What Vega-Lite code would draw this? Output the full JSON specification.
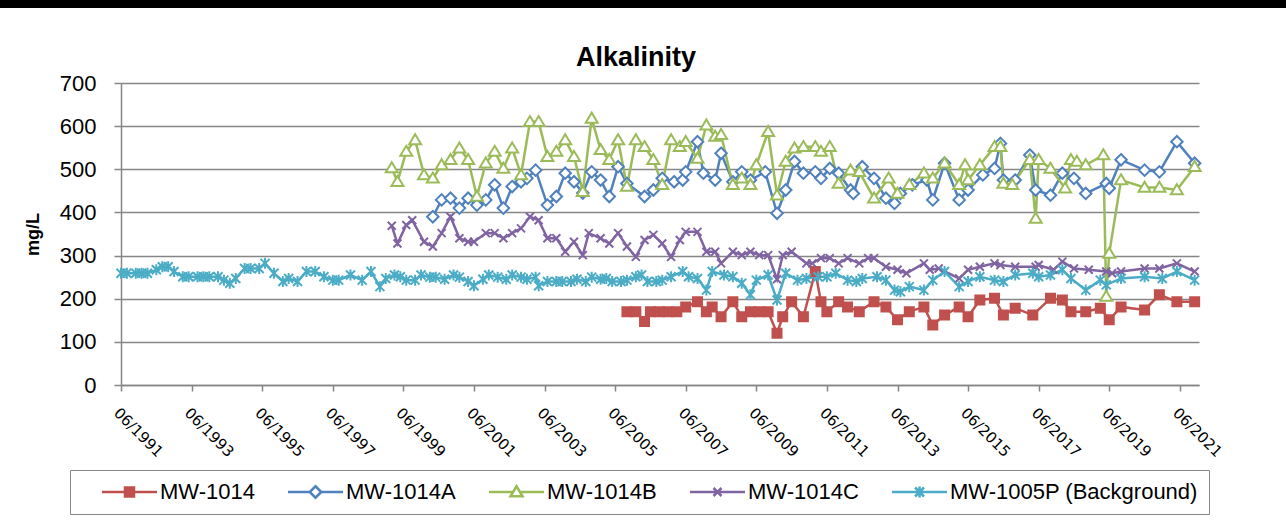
{
  "$schema": "https://vega.github.io/schema/vega-lite/v6.json",
  "padding": 0,
  "background": "white",
  "config": {"view": {"stroke": null}, "font": "Liberation Sans"},
  "spacing": 75,
  "bounds": "flush",
  "datasets": {
    "obs": [
      {"series":"MW-1014","date":"2005-10-01","value":170},{"series":"MW-1014","date":"2006-01-01","value":170},{"series":"MW-1014","date":"2006-04-01","value":147},{"series":"MW-1014","date":"2006-06-01","value":170},{"series":"MW-1014","date":"2006-09-01","value":170},{"series":"MW-1014","date":"2006-12-01","value":170},{"series":"MW-1014","date":"2007-03-01","value":170},{"series":"MW-1014","date":"2007-06-01","value":181},{"series":"MW-1014","date":"2007-10-01","value":193},{"series":"MW-1014","date":"2008-01-01","value":170},{"series":"MW-1014","date":"2008-03-01","value":181},{"series":"MW-1014","date":"2008-06-01","value":158},{"series":"MW-1014","date":"2008-10-01","value":193},{"series":"MW-1014","date":"2009-01-01","value":158},{"series":"MW-1014","date":"2009-04-01","value":170},{"series":"MW-1014","date":"2009-07-01","value":170},{"series":"MW-1014","date":"2009-10-01","value":170},{"series":"MW-1014","date":"2010-01-01","value":120},{"series":"MW-1014","date":"2010-03-01","value":158},{"series":"MW-1014","date":"2010-06-01","value":193},{"series":"MW-1014","date":"2010-10-01","value":158},{"series":"MW-1014","date":"2011-02-01","value":263},{"series":"MW-1014","date":"2011-04-01","value":193},{"series":"MW-1014","date":"2011-06-01","value":170},{"series":"MW-1014","date":"2011-10-01","value":193},{"series":"MW-1014","date":"2012-01-01","value":181},{"series":"MW-1014","date":"2012-05-01","value":170},{"series":"MW-1014","date":"2012-10-01","value":193},{"series":"MW-1014","date":"2013-02-01","value":181},{"series":"MW-1014","date":"2013-06-01","value":151},{"series":"MW-1014","date":"2013-10-01","value":170},{"series":"MW-1014","date":"2014-03-01","value":181},{"series":"MW-1014","date":"2014-06-01","value":139},{"series":"MW-1014","date":"2014-10-01","value":162},{"series":"MW-1014","date":"2015-03-01","value":181},{"series":"MW-1014","date":"2015-06-01","value":158},{"series":"MW-1014","date":"2015-10-01","value":197},{"series":"MW-1014","date":"2016-03-01","value":201},{"series":"MW-1014","date":"2016-06-01","value":162},{"series":"MW-1014","date":"2016-10-01","value":178},{"series":"MW-1014","date":"2017-04-01","value":162},{"series":"MW-1014","date":"2017-10-01","value":201},{"series":"MW-1014","date":"2018-02-01","value":197},{"series":"MW-1014","date":"2018-05-01","value":170},{"series":"MW-1014","date":"2018-10-01","value":170},{"series":"MW-1014","date":"2019-03-01","value":178},{"series":"MW-1014","date":"2019-06-01","value":151},{"series":"MW-1014","date":"2019-10-01","value":181},{"series":"MW-1014","date":"2020-06-01","value":174},{"series":"MW-1014","date":"2020-11-01","value":209},{"series":"MW-1014","date":"2021-05-01","value":193},{"series":"MW-1014","date":"2021-11-01","value":193},

      {"series":"MW-1014A","date":"2000-04-01","value":390},{"series":"MW-1014A","date":"2000-07-01","value":429},{"series":"MW-1014A","date":"2000-10-01","value":433},{"series":"MW-1014A","date":"2001-01-01","value":410},{"series":"MW-1014A","date":"2001-04-01","value":433},{"series":"MW-1014A","date":"2001-07-01","value":417},{"series":"MW-1014A","date":"2001-10-01","value":429},{"series":"MW-1014A","date":"2002-01-01","value":464},{"series":"MW-1014A","date":"2002-04-01","value":410},{"series":"MW-1014A","date":"2002-07-01","value":460},{"series":"MW-1014A","date":"2002-10-01","value":471},{"series":"MW-1014A","date":"2002-12-01","value":479},{"series":"MW-1014A","date":"2003-03-01","value":498},{"series":"MW-1014A","date":"2003-07-01","value":417},{"series":"MW-1014A","date":"2003-10-01","value":437},{"series":"MW-1014A","date":"2004-01-01","value":491},{"series":"MW-1014A","date":"2004-04-01","value":471},{"series":"MW-1014A","date":"2004-07-01","value":445},{"series":"MW-1014A","date":"2004-10-01","value":494},{"series":"MW-1014A","date":"2005-01-01","value":475},{"series":"MW-1014A","date":"2005-04-01","value":437},{"series":"MW-1014A","date":"2005-07-01","value":506},{"series":"MW-1014A","date":"2005-10-01","value":467},{"series":"MW-1014A","date":"2006-04-01","value":437},{"series":"MW-1014A","date":"2006-07-01","value":452},{"series":"MW-1014A","date":"2006-10-01","value":479},{"series":"MW-1014A","date":"2007-02-01","value":471},{"series":"MW-1014A","date":"2007-05-01","value":475},{"series":"MW-1014A","date":"2007-06-01","value":494},{"series":"MW-1014A","date":"2007-10-01","value":564},{"series":"MW-1014A","date":"2007-12-01","value":491},{"series":"MW-1014A","date":"2008-04-01","value":475},{"series":"MW-1014A","date":"2008-06-01","value":537},{"series":"MW-1014A","date":"2008-10-01","value":471},{"series":"MW-1014A","date":"2009-01-01","value":494},{"series":"MW-1014A","date":"2009-04-01","value":475},{"series":"MW-1014A","date":"2009-09-01","value":494},{"series":"MW-1014A","date":"2010-01-01","value":398},{"series":"MW-1014A","date":"2010-04-01","value":452},{"series":"MW-1014A","date":"2010-07-01","value":518},{"series":"MW-1014A","date":"2010-10-01","value":491},{"series":"MW-1014A","date":"2011-02-01","value":494},{"series":"MW-1014A","date":"2011-04-01","value":479},{"series":"MW-1014A","date":"2011-07-01","value":502},{"series":"MW-1014A","date":"2011-10-01","value":491},{"series":"MW-1014A","date":"2012-02-01","value":452},{"series":"MW-1014A","date":"2012-03-01","value":444},{"series":"MW-1014A","date":"2012-06-01","value":506},{"series":"MW-1014A","date":"2012-10-01","value":479},{"series":"MW-1014A","date":"2013-02-01","value":433},{"series":"MW-1014A","date":"2013-05-01","value":421},{"series":"MW-1014A","date":"2013-07-01","value":444},{"series":"MW-1014A","date":"2013-11-01","value":464},{"series":"MW-1014A","date":"2014-04-01","value":475},{"series":"MW-1014A","date":"2014-06-01","value":429},{"series":"MW-1014A","date":"2014-10-01","value":514},{"series":"MW-1014A","date":"2015-03-01","value":429},{"series":"MW-1014A","date":"2015-06-01","value":452},{"series":"MW-1014A","date":"2015-11-01","value":487},{"series":"MW-1014A","date":"2016-03-01","value":502},{"series":"MW-1014A","date":"2016-05-01","value":560},{"series":"MW-1014A","date":"2016-06-01","value":475},{"series":"MW-1014A","date":"2016-10-01","value":475},{"series":"MW-1014A","date":"2017-03-01","value":533},{"series":"MW-1014A","date":"2017-05-01","value":452},{"series":"MW-1014A","date":"2017-10-01","value":440},{"series":"MW-1014A","date":"2018-02-01","value":491},{"series":"MW-1014A","date":"2018-06-01","value":479},{"series":"MW-1014A","date":"2018-10-01","value":444},{"series":"MW-1014A","date":"2019-05-01","value":467},{"series":"MW-1014A","date":"2019-06-01","value":456},{"series":"MW-1014A","date":"2019-10-01","value":522},{"series":"MW-1014A","date":"2020-06-01","value":498},{"series":"MW-1014A","date":"2020-11-01","value":494},{"series":"MW-1014A","date":"2021-05-01","value":564},{"series":"MW-1014A","date":"2021-11-01","value":514},

      {"series":"MW-1014B","date":"1999-02-01","value":503},{"series":"MW-1014B","date":"1999-04-01","value":471},{"series":"MW-1014B","date":"1999-07-01","value":541},{"series":"MW-1014B","date":"1999-10-01","value":568},{"series":"MW-1014B","date":"2000-01-01","value":487},{"series":"MW-1014B","date":"2000-04-01","value":479},{"series":"MW-1014B","date":"2000-07-01","value":510},{"series":"MW-1014B","date":"2000-10-01","value":522},{"series":"MW-1014B","date":"2001-01-01","value":549},{"series":"MW-1014B","date":"2001-04-01","value":522},{"series":"MW-1014B","date":"2001-07-01","value":437},{"series":"MW-1014B","date":"2001-10-01","value":514},{"series":"MW-1014B","date":"2002-01-01","value":541},{"series":"MW-1014B","date":"2002-04-01","value":502},{"series":"MW-1014B","date":"2002-07-01","value":549},{"series":"MW-1014B","date":"2002-10-01","value":487},{"series":"MW-1014B","date":"2003-01-01","value":610},{"series":"MW-1014B","date":"2003-04-01","value":610},{"series":"MW-1014B","date":"2003-07-01","value":529},{"series":"MW-1014B","date":"2003-10-01","value":541},{"series":"MW-1014B","date":"2004-01-01","value":568},{"series":"MW-1014B","date":"2004-04-01","value":529},{"series":"MW-1014B","date":"2004-07-01","value":448},{"series":"MW-1014B","date":"2004-10-01","value":618},{"series":"MW-1014B","date":"2005-01-01","value":545},{"series":"MW-1014B","date":"2005-04-01","value":522},{"series":"MW-1014B","date":"2005-07-01","value":568},{"series":"MW-1014B","date":"2005-10-01","value":460},{"series":"MW-1014B","date":"2006-01-01","value":568},{"series":"MW-1014B","date":"2006-04-01","value":552},{"series":"MW-1014B","date":"2006-07-01","value":522},{"series":"MW-1014B","date":"2006-10-01","value":464},{"series":"MW-1014B","date":"2007-01-01","value":568},{"series":"MW-1014B","date":"2007-04-01","value":552},{"series":"MW-1014B","date":"2007-06-01","value":564},{"series":"MW-1014B","date":"2007-10-01","value":525},{"series":"MW-1014B","date":"2008-01-01","value":602},{"series":"MW-1014B","date":"2008-04-01","value":576},{"series":"MW-1014B","date":"2008-06-01","value":580},{"series":"MW-1014B","date":"2008-10-01","value":464},{"series":"MW-1014B","date":"2009-01-01","value":479},{"series":"MW-1014B","date":"2009-04-01","value":464},{"series":"MW-1014B","date":"2009-06-01","value":510},{"series":"MW-1014B","date":"2009-10-01","value":587},{"series":"MW-1014B","date":"2010-01-01","value":440},{"series":"MW-1014B","date":"2010-04-01","value":518},{"series":"MW-1014B","date":"2010-07-01","value":549},{"series":"MW-1014B","date":"2010-10-01","value":552},{"series":"MW-1014B","date":"2011-02-01","value":552},{"series":"MW-1014B","date":"2011-04-01","value":541},{"series":"MW-1014B","date":"2011-07-01","value":552},{"series":"MW-1014B","date":"2011-10-01","value":467},{"series":"MW-1014B","date":"2012-02-01","value":498},{"series":"MW-1014B","date":"2012-05-01","value":494},{"series":"MW-1014B","date":"2012-10-01","value":433},{"series":"MW-1014B","date":"2013-03-01","value":479},{"series":"MW-1014B","date":"2013-06-01","value":444},{"series":"MW-1014B","date":"2013-10-01","value":464},{"series":"MW-1014B","date":"2014-03-01","value":491},{"series":"MW-1014B","date":"2014-06-01","value":479},{"series":"MW-1014B","date":"2014-10-01","value":514},{"series":"MW-1014B","date":"2015-03-01","value":464},{"series":"MW-1014B","date":"2015-05-01","value":510},{"series":"MW-1014B","date":"2015-06-01","value":475},{"series":"MW-1014B","date":"2015-10-01","value":510},{"series":"MW-1014B","date":"2016-03-01","value":552},{"series":"MW-1014B","date":"2016-05-01","value":552},{"series":"MW-1014B","date":"2016-06-01","value":467},{"series":"MW-1014B","date":"2016-09-01","value":464},{"series":"MW-1014B","date":"2017-03-01","value":522},{"series":"MW-1014B","date":"2017-05-01","value":386},{"series":"MW-1014B","date":"2017-06-01","value":522},{"series":"MW-1014B","date":"2017-10-01","value":502},{"series":"MW-1014B","date":"2018-03-01","value":456},{"series":"MW-1014B","date":"2018-05-01","value":522},{"series":"MW-1014B","date":"2018-07-01","value":518},{"series":"MW-1014B","date":"2018-10-01","value":510},{"series":"MW-1014B","date":"2019-04-01","value":533},{"series":"MW-1014B","date":"2019-05-01","value":205},{"series":"MW-1014B","date":"2019-06-01","value":305},{"series":"MW-1014B","date":"2019-10-01","value":475},{"series":"MW-1014B","date":"2020-06-01","value":458},{"series":"MW-1014B","date":"2020-11-01","value":458},{"series":"MW-1014B","date":"2021-05-01","value":452},{"series":"MW-1014B","date":"2021-11-01","value":506},

      {"series":"MW-1014C","date":"1999-02-01","value":369},{"series":"MW-1014C","date":"1999-04-01","value":328},{"series":"MW-1014C","date":"1999-07-01","value":371},{"series":"MW-1014C","date":"1999-09-01","value":382},{"series":"MW-1014C","date":"2000-01-01","value":332},{"series":"MW-1014C","date":"2000-04-01","value":321},{"series":"MW-1014C","date":"2000-07-01","value":352},{"series":"MW-1014C","date":"2000-10-01","value":390},{"series":"MW-1014C","date":"2001-01-01","value":340},{"series":"MW-1014C","date":"2001-04-01","value":332},{"series":"MW-1014C","date":"2001-06-01","value":332},{"series":"MW-1014C","date":"2001-10-01","value":352},{"series":"MW-1014C","date":"2002-01-01","value":352},{"series":"MW-1014C","date":"2002-04-01","value":340},{"series":"MW-1014C","date":"2002-07-01","value":352},{"series":"MW-1014C","date":"2002-10-01","value":363},{"series":"MW-1014C","date":"2003-01-01","value":390},{"series":"MW-1014C","date":"2003-04-01","value":382},{"series":"MW-1014C","date":"2003-07-01","value":340},{"series":"MW-1014C","date":"2003-10-01","value":340},{"series":"MW-1014C","date":"2004-01-01","value":309},{"series":"MW-1014C","date":"2004-04-01","value":332},{"series":"MW-1014C","date":"2004-07-01","value":301},{"series":"MW-1014C","date":"2004-09-01","value":352},{"series":"MW-1014C","date":"2005-01-01","value":340},{"series":"MW-1014C","date":"2005-04-01","value":328},{"series":"MW-1014C","date":"2005-07-01","value":352},{"series":"MW-1014C","date":"2005-10-01","value":321},{"series":"MW-1014C","date":"2006-01-01","value":297},{"series":"MW-1014C","date":"2006-04-01","value":336},{"series":"MW-1014C","date":"2006-07-01","value":348},{"series":"MW-1014C","date":"2006-10-01","value":328},{"series":"MW-1014C","date":"2007-01-01","value":297},{"series":"MW-1014C","date":"2007-04-01","value":336},{"series":"MW-1014C","date":"2007-06-01","value":355},{"series":"MW-1014C","date":"2007-10-01","value":355},{"series":"MW-1014C","date":"2008-01-01","value":309},{"series":"MW-1014C","date":"2008-04-01","value":309},{"series":"MW-1014C","date":"2008-06-01","value":282},{"series":"MW-1014C","date":"2008-10-01","value":309},{"series":"MW-1014C","date":"2009-01-01","value":301},{"series":"MW-1014C","date":"2009-04-01","value":309},{"series":"MW-1014C","date":"2009-07-01","value":301},{"series":"MW-1014C","date":"2009-10-01","value":301},{"series":"MW-1014C","date":"2010-01-01","value":245},{"series":"MW-1014C","date":"2010-03-01","value":301},{"series":"MW-1014C","date":"2010-06-01","value":309},{"series":"MW-1014C","date":"2010-11-01","value":282},{"series":"MW-1014C","date":"2011-01-01","value":282},{"series":"MW-1014C","date":"2011-04-01","value":294},{"series":"MW-1014C","date":"2011-07-01","value":294},{"series":"MW-1014C","date":"2011-10-01","value":282},{"series":"MW-1014C","date":"2012-01-01","value":294},{"series":"MW-1014C","date":"2012-05-01","value":282},{"series":"MW-1014C","date":"2012-08-01","value":294},{"series":"MW-1014C","date":"2012-10-01","value":294},{"series":"MW-1014C","date":"2013-02-01","value":274},{"series":"MW-1014C","date":"2013-06-01","value":267},{"series":"MW-1014C","date":"2013-09-01","value":259},{"series":"MW-1014C","date":"2014-03-01","value":282},{"series":"MW-1014C","date":"2014-05-01","value":267},{"series":"MW-1014C","date":"2014-08-01","value":270},{"series":"MW-1014C","date":"2015-03-01","value":247},{"series":"MW-1014C","date":"2015-06-01","value":267},{"series":"MW-1014C","date":"2015-10-01","value":274},{"series":"MW-1014C","date":"2016-03-01","value":282},{"series":"MW-1014C","date":"2016-05-01","value":278},{"series":"MW-1014C","date":"2016-10-01","value":274},{"series":"MW-1014C","date":"2017-05-01","value":274},{"series":"MW-1014C","date":"2017-06-01","value":278},{"series":"MW-1014C","date":"2017-11-01","value":267},{"series":"MW-1014C","date":"2018-02-01","value":286},{"series":"MW-1014C","date":"2018-06-01","value":270},{"series":"MW-1014C","date":"2018-11-01","value":267},{"series":"MW-1014C","date":"2019-05-01","value":263},{"series":"MW-1014C","date":"2019-07-01","value":259},{"series":"MW-1014C","date":"2019-10-01","value":263},{"series":"MW-1014C","date":"2020-06-01","value":270},{"series":"MW-1014C","date":"2020-11-01","value":270},{"series":"MW-1014C","date":"2021-05-01","value":282},{"series":"MW-1014C","date":"2021-11-01","value":263},

      {"series":"MW-1005P (Background)","date":"1991-06-01","value":259},{"series":"MW-1005P (Background)","date":"1991-08-01","value":259},{"series":"MW-1005P (Background)","date":"1991-11-01","value":259},{"series":"MW-1005P (Background)","date":"1992-01-01","value":259},{"series":"MW-1005P (Background)","date":"1992-03-01","value":259},{"series":"MW-1005P (Background)","date":"1992-06-01","value":267},{"series":"MW-1005P (Background)","date":"1992-08-01","value":274},{"series":"MW-1005P (Background)","date":"1992-10-01","value":274},{"series":"MW-1005P (Background)","date":"1992-12-01","value":263},{"series":"MW-1005P (Background)","date":"1993-03-01","value":251},{"series":"MW-1005P (Background)","date":"1993-05-01","value":251},{"series":"MW-1005P (Background)","date":"1993-08-01","value":251},{"series":"MW-1005P (Background)","date":"1993-10-01","value":251},{"series":"MW-1005P (Background)","date":"1993-12-01","value":251},{"series":"MW-1005P (Background)","date":"1994-03-01","value":251},{"series":"MW-1005P (Background)","date":"1994-05-01","value":243},{"series":"MW-1005P (Background)","date":"1994-07-01","value":236},{"series":"MW-1005P (Background)","date":"1994-09-01","value":247},{"series":"MW-1005P (Background)","date":"1994-12-01","value":270},{"series":"MW-1005P (Background)","date":"1995-02-01","value":270},{"series":"MW-1005P (Background)","date":"1995-05-01","value":270},{"series":"MW-1005P (Background)","date":"1995-07-01","value":282},{"series":"MW-1005P (Background)","date":"1995-10-01","value":259},{"series":"MW-1005P (Background)","date":"1996-01-01","value":240},{"series":"MW-1005P (Background)","date":"1996-03-01","value":247},{"series":"MW-1005P (Background)","date":"1996-06-01","value":240},{"series":"MW-1005P (Background)","date":"1996-09-01","value":263},{"series":"MW-1005P (Background)","date":"1996-12-01","value":263},{"series":"MW-1005P (Background)","date":"1997-03-01","value":251},{"series":"MW-1005P (Background)","date":"1997-06-01","value":243},{"series":"MW-1005P (Background)","date":"1997-08-01","value":243},{"series":"MW-1005P (Background)","date":"1997-12-01","value":255},{"series":"MW-1005P (Background)","date":"1998-04-01","value":243},{"series":"MW-1005P (Background)","date":"1998-07-01","value":263},{"series":"MW-1005P (Background)","date":"1998-10-01","value":228},{"series":"MW-1005P (Background)","date":"1998-12-01","value":247},{"series":"MW-1005P (Background)","date":"1999-03-01","value":255},{"series":"MW-1005P (Background)","date":"1999-05-01","value":251},{"series":"MW-1005P (Background)","date":"1999-07-01","value":243},{"series":"MW-1005P (Background)","date":"1999-10-01","value":243},{"series":"MW-1005P (Background)","date":"1999-12-01","value":255},{"series":"MW-1005P (Background)","date":"2000-03-01","value":250},{"series":"MW-1005P (Background)","date":"2000-05-01","value":250},{"series":"MW-1005P (Background)","date":"2000-08-01","value":245},{"series":"MW-1005P (Background)","date":"2000-11-01","value":255},{"series":"MW-1005P (Background)","date":"2001-01-01","value":250},{"series":"MW-1005P (Background)","date":"2001-04-01","value":240},{"series":"MW-1005P (Background)","date":"2001-06-01","value":230},{"series":"MW-1005P (Background)","date":"2001-09-01","value":245},{"series":"MW-1005P (Background)","date":"2001-11-01","value":255},{"series":"MW-1005P (Background)","date":"2002-02-01","value":250},{"series":"MW-1005P (Background)","date":"2002-05-01","value":245},{"series":"MW-1005P (Background)","date":"2002-07-01","value":255},{"series":"MW-1005P (Background)","date":"2002-10-01","value":250},{"series":"MW-1005P (Background)","date":"2002-12-01","value":245},{"series":"MW-1005P (Background)","date":"2003-03-01","value":250},{"series":"MW-1005P (Background)","date":"2003-04-01","value":230},{"series":"MW-1005P (Background)","date":"2003-07-01","value":240},{"series":"MW-1005P (Background)","date":"2003-10-01","value":240},{"series":"MW-1005P (Background)","date":"2003-12-01","value":240},{"series":"MW-1005P (Background)","date":"2004-03-01","value":240},{"series":"MW-1005P (Background)","date":"2004-05-01","value":245},{"series":"MW-1005P (Background)","date":"2004-08-01","value":240},{"series":"MW-1005P (Background)","date":"2004-10-01","value":250},{"series":"MW-1005P (Background)","date":"2005-01-01","value":245},{"series":"MW-1005P (Background)","date":"2005-03-01","value":247},{"series":"MW-1005P (Background)","date":"2005-05-01","value":240},{"series":"MW-1005P (Background)","date":"2005-08-01","value":240},{"series":"MW-1005P (Background)","date":"2005-10-01","value":243},{"series":"MW-1005P (Background)","date":"2006-01-01","value":251},{"series":"MW-1005P (Background)","date":"2006-03-01","value":255},{"series":"MW-1005P (Background)","date":"2006-05-01","value":240},{"series":"MW-1005P (Background)","date":"2006-08-01","value":240},{"series":"MW-1005P (Background)","date":"2006-10-01","value":243},{"series":"MW-1005P (Background)","date":"2007-01-01","value":251},{"series":"MW-1005P (Background)","date":"2007-05-01","value":263},{"series":"MW-1005P (Background)","date":"2007-07-01","value":251},{"series":"MW-1005P (Background)","date":"2007-10-01","value":247},{"series":"MW-1005P (Background)","date":"2008-01-01","value":220},{"series":"MW-1005P (Background)","date":"2008-03-01","value":263},{"series":"MW-1005P (Background)","date":"2008-07-01","value":255},{"series":"MW-1005P (Background)","date":"2008-10-01","value":251},{"series":"MW-1005P (Background)","date":"2009-01-01","value":236},{"series":"MW-1005P (Background)","date":"2009-04-01","value":209},{"series":"MW-1005P (Background)","date":"2009-06-01","value":243},{"series":"MW-1005P (Background)","date":"2009-10-01","value":255},{"series":"MW-1005P (Background)","date":"2010-01-01","value":197},{"series":"MW-1005P (Background)","date":"2010-04-01","value":259},{"series":"MW-1005P (Background)","date":"2010-08-01","value":243},{"series":"MW-1005P (Background)","date":"2010-11-01","value":247},{"series":"MW-1005P (Background)","date":"2011-03-01","value":251},{"series":"MW-1005P (Background)","date":"2011-06-01","value":251},{"series":"MW-1005P (Background)","date":"2011-09-01","value":259},{"series":"MW-1005P (Background)","date":"2012-01-01","value":243},{"series":"MW-1005P (Background)","date":"2012-04-01","value":240},{"series":"MW-1005P (Background)","date":"2012-06-01","value":247},{"series":"MW-1005P (Background)","date":"2012-11-01","value":251},{"series":"MW-1005P (Background)","date":"2013-02-01","value":243},{"series":"MW-1005P (Background)","date":"2013-05-01","value":220},{"series":"MW-1005P (Background)","date":"2013-07-01","value":216},{"series":"MW-1005P (Background)","date":"2013-10-01","value":228},{"series":"MW-1005P (Background)","date":"2014-03-01","value":220},{"series":"MW-1005P (Background)","date":"2014-06-01","value":243},{"series":"MW-1005P (Background)","date":"2014-10-01","value":263},{"series":"MW-1005P (Background)","date":"2015-03-01","value":228},{"series":"MW-1005P (Background)","date":"2015-06-01","value":240},{"series":"MW-1005P (Background)","date":"2015-10-01","value":251},{"series":"MW-1005P (Background)","date":"2016-03-01","value":243},{"series":"MW-1005P (Background)","date":"2016-06-01","value":240},{"series":"MW-1005P (Background)","date":"2016-10-01","value":255},{"series":"MW-1005P (Background)","date":"2017-04-01","value":259},{"series":"MW-1005P (Background)","date":"2017-06-01","value":251},{"series":"MW-1005P (Background)","date":"2017-10-01","value":255},{"series":"MW-1005P (Background)","date":"2018-02-01","value":267},{"series":"MW-1005P (Background)","date":"2018-05-01","value":247},{"series":"MW-1005P (Background)","date":"2018-10-01","value":220},{"series":"MW-1005P (Background)","date":"2019-03-01","value":243},{"series":"MW-1005P (Background)","date":"2019-05-01","value":232},{"series":"MW-1005P (Background)","date":"2019-10-01","value":247},{"series":"MW-1005P (Background)","date":"2020-06-01","value":251},{"series":"MW-1005P (Background)","date":"2020-12-01","value":247},{"series":"MW-1005P (Background)","date":"2021-05-01","value":263},{"series":"MW-1005P (Background)","date":"2021-11-01","value":243}
    ],
    "keys": [
      {"series":"MW-1014","date":null,"value":null},
      {"series":"MW-1014A","date":null,"value":null},
      {"series":"MW-1014B","date":null,"value":null},
      {"series":"MW-1014C","date":null,"value":null},
      {"series":"MW-1005P (Background)","date":null,"value":null}
    ]
  },
  "vconcat": [
    {
      "width": 1286,
      "height": 8,
      "view": {"fill": "black", "stroke": null},
      "data": {"values": [{}]},
      "mark": {"type": "rect", "color": "black"},
      "encoding": {}
    },
    {
      "spacing": 120,
      "bounds": "flush",
      "hconcat": [
        {
          "width": 1,
          "height": 1,
          "data": {"values": []},
          "mark": {"type": "rect", "color": "white"},
          "encoding": {}
        },
        {
          "width": 1078,
          "height": 302,
          "title": {"text": "Alkalinity", "font": "Liberation Sans", "fontSize": 27, "fontWeight": "bold", "color": "black", "frame": "group", "anchor": "middle", "dx": -24, "dy": 30, "baseline": "alphabetic", "offset": 9},
          "encoding": {
            "x": {
              "field": "date", "type": "temporal",
              "scale": {"domain": [{"year": 1991, "month": 6, "date": 1}, {"year": 2021, "month": 12, "date": 16}]},
              "axis": {
                "title": null, "grid": false, "format": "%m/%Y",
                "values": [{"year":1991,"month":6,"date":1},{"year":1993,"month":6,"date":1},{"year":1995,"month":6,"date":1},{"year":1997,"month":6,"date":1},{"year":1999,"month":6,"date":1},{"year":2001,"month":6,"date":1},{"year":2003,"month":6,"date":1},{"year":2005,"month":6,"date":1},{"year":2007,"month":6,"date":1},{"year":2009,"month":6,"date":1},{"year":2011,"month":6,"date":1},{"year":2013,"month":6,"date":1},{"year":2015,"month":6,"date":1},{"year":2017,"month":6,"date":1},{"year":2019,"month":6,"date":1},{"year":2021,"month":6,"date":1}],
                "labelAngle": 45, "labelAlign": "left", "labelBaseline": "top", "labelPadding": 14,
                "labelFont": "DejaVu Sans", "labelFontSize": 15, "labelColor": "black",
                "labelOverlap": false, "labelFlush": false, "labelBound": false,
                "tickSize": 6, "tickColor": "#868686", "tickWidth": 1.5,
                "domainColor": "#868686", "domainWidth": 1.5
              }
            },
            "y": {
              "field": "value", "type": "quantitative",
              "scale": {"domain": [0, 700], "nice": false},
              "axis": {
                "title": "mg/L", "titleFont": "Liberation Sans", "titleFontSize": 18, "titleFontWeight": "bold", "titleColor": "black", "titlePadding": 17,
                "values": [0, 100, 200, 300, 400, 500, 600, 700],
                "labelFont": "Liberation Sans", "labelFontSize": 22, "labelColor": "black", "labelPadding": 18,
                "grid": true, "gridColor": "#868686", "gridWidth": 1.5,
                "tickSize": 7, "tickColor": "#868686", "tickWidth": 1.5,
                "domainColor": "#868686", "domainWidth": 1.5
              }
            }
          },
          "layer": [
            {
              "data": {"name": "obs"},
              "mark": {"type": "line", "strokeWidth": 2.5},
              "encoding": {
                "stroke": {"field": "series", "type": "nominal",
                  "scale": {"domain": ["MW-1014", "MW-1014A", "MW-1014B", "MW-1014C", "MW-1005P (Background)"], "range": ["#C0504D", "#4F81BD", "#9BBB59", "#8064A2", "#4BACC6"]},
                  "legend": null}
              }
            },
            {
              "data": {"name": "obs"},
              "mark": {"type": "point", "filled": true, "size": 100, "strokeWidth": 2, "opacity": 1},
              "encoding": {
                "stroke": {"field": "series", "type": "nominal",
                  "scale": {"domain": ["MW-1014", "MW-1014A", "MW-1014B", "MW-1014C", "MW-1005P (Background)"], "range": ["#C0504D", "#4F81BD", "#9BBB59", "#8064A2", "#4BACC6"]},
                  "legend": null},
                "fill": {"field": "series", "type": "nominal",
                  "scale": {"domain": ["MW-1014", "MW-1014A", "MW-1014B", "MW-1014C", "MW-1005P (Background)"], "range": ["#C0504D", "white", "white", "white", "white"]},
                  "legend": null},
                "shape": {"field": "series", "type": "nominal",
                  "scale": {"domain": ["MW-1014", "MW-1014A", "MW-1014B", "MW-1014C", "MW-1005P (Background)"],
                    "range": ["M-0.9,-0.9H0.9V0.9H-0.9Z", "M0,-1.15L1.15,0L0,1.15L-1.15,0Z", "M0,-1.15L1.2,0.85L-1.2,0.85Z", "M-0.8,-0.8L0.8,0.8M-0.8,0.8L0.8,-0.8", "M-0.9,-0.9L0.9,0.9M-0.9,0.9L0.9,-0.9M0,-1.1V1.1"]},
                  "legend": null}
              }
            },
            {
              "data": {"name": "keys"},
              "mark": {"type": "point", "filled": true, "size": 100, "strokeWidth": 2.5, "opacity": 1},
              "encoding": {
                "stroke": {"field": "series", "type": "nominal",
                  "scale": {"domain": ["MW-1014", "MW-1014A", "MW-1014B", "MW-1014C", "MW-1005P (Background)"], "range": ["#C0504D", "#4F81BD", "#9BBB59", "#8064A2", "#4BACC6"]},
                  "legend": {"orient": "none", "legendX": -51, "legendY": 387, "direction": "horizontal", "columns": 5, "title": null, "labelFont": "Liberation Sans", "labelFontSize": 22, "labelColor": "black", "labelLimit": 400, "symbolSize": 100, "symbolStrokeWidth": 2.5, "symbolOffset": 15, "labelOffset": 42, "columnPadding": 12, "padding": 11, "strokeColor": "#868686", "fillColor": "white", "symbolOpacity": 1}},
                "fill": {"field": "series", "type": "nominal",
                  "scale": {"domain": ["MW-1014", "MW-1014A", "MW-1014B", "MW-1014C", "MW-1005P (Background)"], "range": ["#C0504D", "white", "white", "white", "white"]},
                  "legend": {"orient": "none", "legendX": -51, "legendY": 387, "direction": "horizontal", "columns": 5, "title": null, "labelFont": "Liberation Sans", "labelFontSize": 22, "labelColor": "black", "labelLimit": 400, "symbolSize": 100, "symbolStrokeWidth": 2.5, "symbolOffset": 15, "labelOffset": 42, "columnPadding": 12, "padding": 11, "strokeColor": "#868686", "fillColor": "white", "symbolOpacity": 1}},
                "shape": {"field": "series", "type": "nominal",
                  "scale": {"domain": ["MW-1014", "MW-1014A", "MW-1014B", "MW-1014C", "MW-1005P (Background)"],
                    "range": ["M-1,0H3.6M5.4,0H10M3.6,-0.9H5.4V0.9H3.6Z", "M-1,0H3.35M5.65,0H10M4.5,-1.15L5.65,0L4.5,1.15L3.35,0Z", "M-1,0H3.8M5.2,0H10M4.5,-1.15L5.7,0.85L3.3,0.85Z", "M-1,0H10M3.7,-0.8L5.3,0.8M3.7,0.8L5.3,-0.8", "M-1,0H10M3.6,-0.9L5.4,0.9M3.6,0.9L5.4,-0.9M4.5,-1.1V1.1"]},
                  "legend": {"orient": "none", "legendX": -51, "legendY": 387, "direction": "horizontal", "columns": 5, "title": null, "labelFont": "Liberation Sans", "labelFontSize": 22, "labelColor": "black", "labelLimit": 400, "symbolSize": 100, "symbolStrokeWidth": 2.5, "symbolOffset": 15, "labelOffset": 42, "columnPadding": 12, "padding": 11, "strokeColor": "#868686", "fillColor": "white", "symbolOpacity": 1}}
              }
            }
          ],
          "resolve": {"scale": {"stroke": "independent", "fill": "independent", "shape": "independent"}}
        }
      ]
    }
  ]
}
